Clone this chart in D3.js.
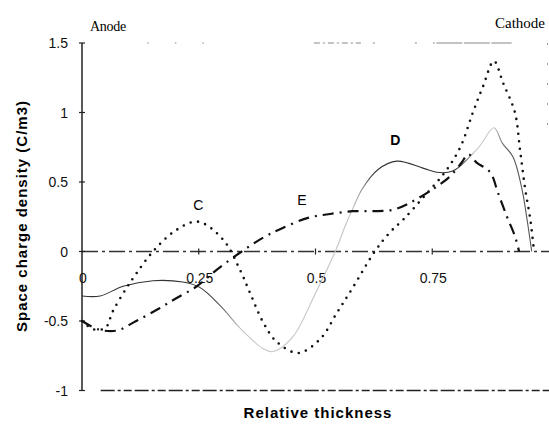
<!DOCTYPE html>
<html>
<head>
<meta charset="utf-8">
<script src="https://cdn.jsdelivr.net/npm/d3@7"></script>
<style>
  body { margin: 0; background: #fff; }
  svg { display: block; }
</style>
</head>
<body>
<svg width="549" height="427"></svg>
<script>
// curve C (dotted)
var cX = [0, 0.025, 0.05, 0.066, 0.094, 0.116, 0.152, 0.2, 0.248, 0.302, 0.338, 0.36, 0.388, 0.417, 0.463, 0.51, 0.546, 0.578, 0.627, 0.66, 0.688, 0.731, 0.777, 0.81, 0.837, 0.859, 0.882, 0.902, 0.927, 0.938, 0.949, 0.96, 0.968];
var cY = [-0.5, -0.56, -0.55, -0.43, -0.27, -0.16, 0, 0.15, 0.215, 0.086, -0.13, -0.3, -0.51, -0.65, -0.73, -0.63, -0.44, -0.27, 0, 0.14, 0.23, 0.39, 0.57, 0.75, 1.0, 1.19, 1.37, 1.21, 1.0, 0.73, 0.45, 0.23, 0];

// curve D (thin line)
var dX = [0, 0.039, 0.088, 0.152, 0.216, 0.253, 0.296, 0.33, 0.353, 0.388, 0.409, 0.45, 0.5, 0.546, 0.563, 0.58, 0.6, 0.634, 0.674, 0.73, 0.76, 0.784, 0.8, 0.824, 0.852, 0.882, 0.9, 0.923, 0.942, 0.953, 0.963];
var dY = [-0.32, -0.32, -0.25, -0.21, -0.22, -0.26, -0.39, -0.52, -0.6, -0.7, -0.72, -0.62, -0.3, 0.03, 0.18, 0.31, 0.45, 0.59, 0.65, 0.6, 0.57, 0.57, 0.59, 0.66, 0.76, 0.89, 0.78, 0.68, 0.45, 0.23, 0];

// curve E (dash-dot)
var eX = [0, 0.035, 0.073, 0.116, 0.165, 0.2, 0.246, 0.289, 0.342, 0.388, 0.424, 0.482, 0.531, 0.58, 0.623, 0.666, 0.702, 0.752, 0.788, 0.813, 0.827, 0.845, 0.874, 0.891, 0.91, 0.927, 0.936];
var eY = [-0.5, -0.56, -0.57, -0.5, -0.41, -0.34, -0.25, -0.13, 0, 0.1, 0.16, 0.24, 0.27, 0.29, 0.29, 0.3, 0.35, 0.45, 0.54, 0.64, 0.7, 0.64, 0.57, 0.42, 0.25, 0.11, 0];

var xTicks = [0, 0.25, 0.5, 0.75];
var xTickLabels = ["0", "0.25", "0.5", "0.75"];
var yTicks = [1.5, 1, 0.5, 0, -0.5, -1];
var yTickLabels = ["1.5", "1", "0.5", "0", "-0.5", "-1"];

var svg = d3.select("svg");

var x = d3.scaleLinear().domain([0, 1]).range([82, 549]);
var y = d3.scaleLinear().domain([-1, 1.5]).range([390.5, 43]);

var sans = "'Liberation Sans', Arial, sans-serif";
var serif = "'Liberation Serif', 'Times New Roman', serif";

// frame pieces (scanned look)
svg.append("line") // top
    .attr("x1", x(0.14)).attr("x2", x(0.92))
    .attr("y1", y(1.5)).attr("y2", y(1.5))
    .attr("stroke", "#888").attr("stroke-width", 1)
    .attr("stroke-dasharray", "1.5,26,1.5,26,1.5,110,6,3,2,3,6,3,2,3,6,3,2,3,5,12,2,40,2,16,2");

svg.append("line") // right
    .attr("x1", x(1) - 1.5).attr("x2", x(1) - 1.5)
    .attr("y1", y(1.5)).attr("y2", y(0.9))
    .attr("stroke", "#999").attr("stroke-width", 1)
    .attr("stroke-dasharray", "2,18");

svg.append("line") // bottom
    .attr("x1", x(0.04)).attr("x2", x(1))
    .attr("y1", y(-1)).attr("y2", y(-1))
    .attr("stroke", "#222").attr("stroke-width", 1.4)
    .attr("stroke-dasharray", "14,3,3,3,8,3");

// zero line
svg.append("line")
    .attr("x1", x(0)).attr("x2", x(1))
    .attr("y1", y(0)).attr("y2", y(0))
    .attr("stroke", "#333").attr("stroke-width", 1.4)
    .attr("stroke-dasharray", "16,4,3,4");

// y axis
svg.append("line")
    .attr("x1", x(0)).attr("x2", x(0))
    .attr("y1", y(1.5)).attr("y2", y(-1))
    .attr("stroke", "#222").attr("stroke-width", 1.5);

svg.selectAll(".ytick")
    .data(yTicks).enter().append("line")
    .attr("x1", x(0) - 3).attr("x2", x(0) + 3)
    .attr("y1", function (d) { return y(d); })
    .attr("y2", function (d) { return y(d); })
    .attr("stroke", "#222").attr("stroke-width", 1.2);

svg.selectAll(".ylab")
    .data(yTicks).enter().append("text")
    .attr("x", 68)
    .attr("y", function (d) { return y(d); })
    .attr("dy", "0.36em")
    .attr("text-anchor", "end")
    .style("font-family", sans)
    .style("font-size", "14px")
    .style("fill", "#111")
    .text(function (d, i) { return yTickLabels[i]; });

svg.selectAll(".xtick")
    .data(xTicks.slice(1)).enter().append("line")
    .attr("x1", function (d) { return x(d); })
    .attr("x2", function (d) { return x(d); })
    .attr("y1", y(0) - 3).attr("y2", y(0) + 3)
    .attr("stroke", "#222").attr("stroke-width", 1.2);

svg.selectAll(".xlab")
    .data(xTicks).enter().append("text")
    .attr("x", function (d) { return x(d) + 1; })
    .attr("y", 283)
    .attr("text-anchor", "middle")
    .style("font-family", sans)
    .style("font-size", "14px")
    .style("fill", "#111")
    .text(function (d, i) { return xTickLabels[i]; });

// D fades in and out along x like the scan
var grad = svg.append("defs").append("linearGradient")
    .attr("id", "dGrad")
    .attr("gradientUnits", "userSpaceOnUse")
    .attr("x1", x(0)).attr("x2", x(1))
    .attr("y1", 0).attr("y2", 0);
[[0, "#333"], [0.28, "#333"], [0.34, "#c4c4c4"], [0.58, "#c4c4c4"], [0.63, "#333"],
 [0.81, "#333"], [0.84, "#c8c8c8"], [0.88, "#c8c8c8"], [0.91, "#555"], [1, "#555"]]
    .forEach(function (s) {
        grad.append("stop").attr("offset", s[0]).attr("stop-color", s[1]);
    });

var line = d3.line()
    .x(function (d) { return x(d[0]); })
    .y(function (d) { return y(d[1]); })
    .curve(d3.curveCatmullRom.alpha(0.5));

svg.append("path")
    .datum(d3.zip(dX, dY))
    .attr("d", line)
    .attr("fill", "none")
    .attr("stroke", "url(#dGrad)")
    .attr("stroke-width", 1.1);

svg.append("path")
    .datum(d3.zip(eX, eY))
    .attr("d", line)
    .attr("fill", "none")
    .attr("stroke", "#111")
    .attr("stroke-width", 2.2)
    .attr("stroke-dasharray", "11,6,2,6");

svg.append("path")
    .datum(d3.zip(cX, cY))
    .attr("d", line)
    .attr("fill", "none")
    .attr("stroke", "#111")
    .attr("stroke-width", 2.6)
    .attr("stroke-linecap", "round")
    .attr("stroke-dasharray", "0,7.5");

// curve labels
svg.append("text").attr("x", x(0.249)).attr("y", 210)
    .attr("text-anchor", "middle")
    .style("font-family", sans).style("font-size", "14px")
    .text("C");
svg.append("text").attr("x", x(0.671)).attr("y", 145)
    .attr("text-anchor", "middle")
    .style("font-family", sans).style("font-size", "14px").style("font-weight", "bold")
    .text("D");
svg.append("text").attr("x", x(0.471)).attr("y", 205)
    .attr("text-anchor", "middle")
    .style("font-family", sans).style("font-size", "14px")
    .text("E");

// electrode labels
svg.append("text").attr("x", 90).attr("y", 31)
    .style("font-family", serif).style("font-size", "14px")
    .style("letter-spacing", "-0.3px")
    .text("Anode");
svg.append("text").attr("x", 545).attr("y", 28)
    .attr("text-anchor", "end")
    .style("font-family", serif).style("font-size", "15px")
    .text("Cathode");

// axis titles
svg.append("text")
    .attr("transform", "translate(27,216) rotate(-90)")
    .attr("text-anchor", "middle")
    .style("font-family", sans).style("font-size", "15px").style("font-weight", "bold")
    .style("letter-spacing", "1px")
    .text("Space charge density (C/m3)");

svg.append("text")
    .attr("x", 318).attr("y", 418)
    .attr("text-anchor", "middle")
    .style("font-family", sans).style("font-size", "15px").style("font-weight", "bold")
    .style("letter-spacing", "1px")
    .text("Relative thickness");
</script>
</body>
</html>
